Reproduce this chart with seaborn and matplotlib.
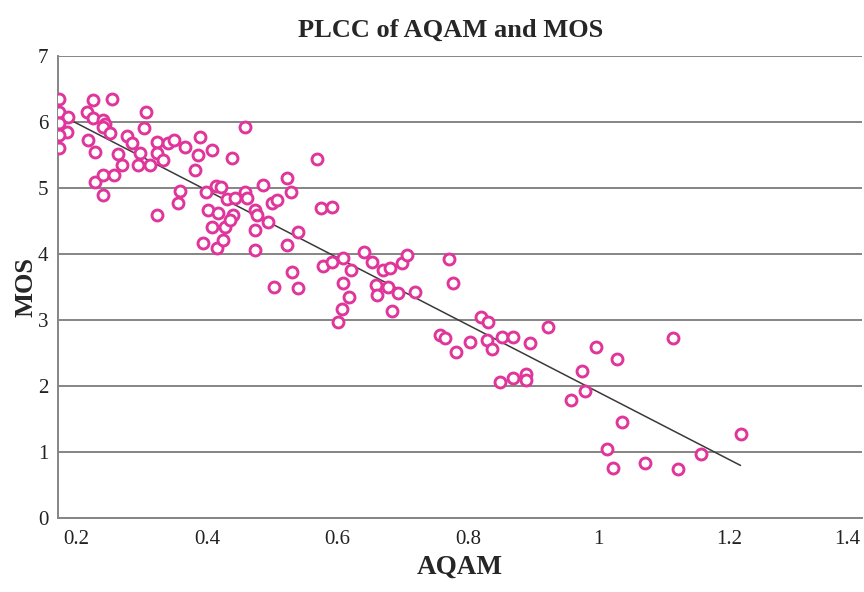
import numpy as np
import pandas as pd
import matplotlib
matplotlib.use("Agg")
import matplotlib.pyplot as plt
import seaborn as sns

# ---- data ----
aqam = [0.174, 0.174, 0.188, 0.174, 0.186, 0.174, 0.174, 0.217, 0.226, 0.226,
        0.241, 0.244, 0.255, 0.241, 0.252, 0.306, 0.303, 0.218, 0.229, 0.278,
        0.286, 0.264, 0.270, 0.295, 0.298, 0.313, 0.324, 0.324, 0.333, 0.341,
        0.349, 0.367, 0.390, 0.387, 0.408, 0.382, 0.439, 0.459, 0.229, 0.241,
        0.257, 0.241, 0.324, 0.359, 0.356, 0.398, 0.414, 0.421, 0.401, 0.417,
        0.431, 0.443, 0.440, 0.408, 0.428, 0.436, 0.394, 0.416, 0.424, 0.459,
        0.462, 0.486, 0.474, 0.477, 0.474, 0.474, 0.494, 0.500, 0.508, 0.523,
        0.528, 0.522, 0.540, 0.569, 0.574, 0.592, 0.531, 0.502, 0.540, 0.577,
        0.592, 0.609, 0.620, 0.609, 0.617, 0.607, 0.600, 0.641, 0.653, 0.670,
        0.681, 0.699, 0.707, 0.659, 0.661, 0.678, 0.692, 0.719, 0.684, 0.770,
        0.777, 0.757, 0.765, 0.782, 0.803, 0.819, 0.831, 0.829, 0.836, 0.852,
        0.868, 0.895, 0.923, 0.848, 0.869, 0.888, 0.888, 0.975, 0.979, 0.957,
        0.995, 1.028, 1.113, 1.036, 1.013, 1.022, 1.071, 1.122, 1.157, 1.217]
mos = [6.35, 6.15, 6.08, 5.98, 5.85, 5.80, 5.61, 6.15, 6.33, 6.06,
       6.03, 5.97, 6.35, 5.92, 5.83, 6.15, 5.91, 5.73, 5.55, 5.79,
       5.68, 5.52, 5.35, 5.35, 5.53, 5.35, 5.70, 5.53, 5.42, 5.68,
       5.73, 5.62, 5.77, 5.50, 5.58, 5.27, 5.45, 5.92, 5.09, 5.20,
       5.20, 4.89, 4.59, 4.95, 4.77, 4.94, 5.03, 5.02, 4.67, 4.62,
       4.83, 4.85, 4.59, 4.41, 4.41, 4.52, 4.17, 4.09, 4.21, 4.94,
       4.85, 5.05, 4.67, 4.59, 4.36, 4.06, 4.48, 4.77, 4.82, 5.15,
       4.94, 4.14, 4.33, 5.44, 4.70, 4.71, 3.73, 3.50, 3.48, 3.82,
       3.88, 3.94, 3.76, 3.56, 3.35, 3.17, 2.97, 4.03, 3.88, 3.76,
       3.79, 3.86, 3.98, 3.53, 3.38, 3.50, 3.41, 3.42, 3.14, 3.92,
       3.56, 2.77, 2.73, 2.52, 2.67, 3.05, 2.97, 2.70, 2.56, 2.74,
       2.74, 2.65, 2.89, 2.06, 2.12, 2.18, 2.09, 2.23, 1.92, 1.79,
       2.59, 2.41, 2.73, 1.45, 1.05, 0.76, 0.83, 0.74, 0.97, 1.27]
x_ticks = [0.2, 0.4, 0.6, 0.8, 1.0, 1.2, 1.4]
x_tick_labels = ["0.2", "0.4", "0.6", "0.8", "1", "1.2", "1.4"]
y_ticks = [0, 1, 2, 3, 4, 5, 6, 7]

df = pd.DataFrame({"AQAM": aqam, "MOS": mos})

sns.set_theme(style="white")
plt.rcParams["font.family"] = ["Liberation Serif", "DejaVu Serif"]

fig, ax = plt.subplots(figsize=(8.64, 5.92), dpi=100)
fig.subplots_adjust(left=58/864, right=862/864, bottom=1-518/592, top=1-56/592)

# trend line (least-squares fit over the data range)
sns.regplot(data=df, x="AQAM", y="MOS", ax=ax, scatter=False, ci=None,
            truncate=True, line_kws=dict(color="#3a3a3a", lw=1.1, zorder=2))

sns.scatterplot(data=df, x="AQAM", y="MOS", ax=ax, s=62, marker="o",
                facecolor="white", edgecolor="#E0359A", linewidth=2.1,
                zorder=3, legend=False)

ax.set_xlim(0.172, 1.403)
ax.set_ylim(0, 7)
ax.set_xticks(x_ticks)
ax.set_xticklabels(x_tick_labels)
ax.set_yticks(y_ticks)
# keep the last label inside the figure, as in the reference
ax.get_xticklabels()[-1].set_horizontalalignment("right")

ax.grid(axis="y", color="#858585", lw=1.4)
ax.grid(axis="x", visible=False)
ax.set_axisbelow(True)
for side in ["top", "right"]:
    ax.spines[side].set_visible(False)
for side in ["left", "bottom"]:
    ax.spines[side].set_visible(True)
    ax.spines[side].set_color("#858585")
    ax.spines[side].set_linewidth(1.4)

ax.tick_params(axis="both", length=0, labelsize=15, colors="#222222")
ax.tick_params(axis="y", pad=7)
ax.tick_params(axis="x", pad=9)

ax.set_title("PLCC of AQAM and MOS", fontsize=19, fontweight="bold", pad=14,
             x=0.488)
ax.set_xlabel("AQAM", fontsize=19.5, fontweight="bold", labelpad=4)
ax.set_ylabel("MOS", fontsize=19, fontweight="bold", labelpad=0)

fig.savefig("out.png", dpi=100)
